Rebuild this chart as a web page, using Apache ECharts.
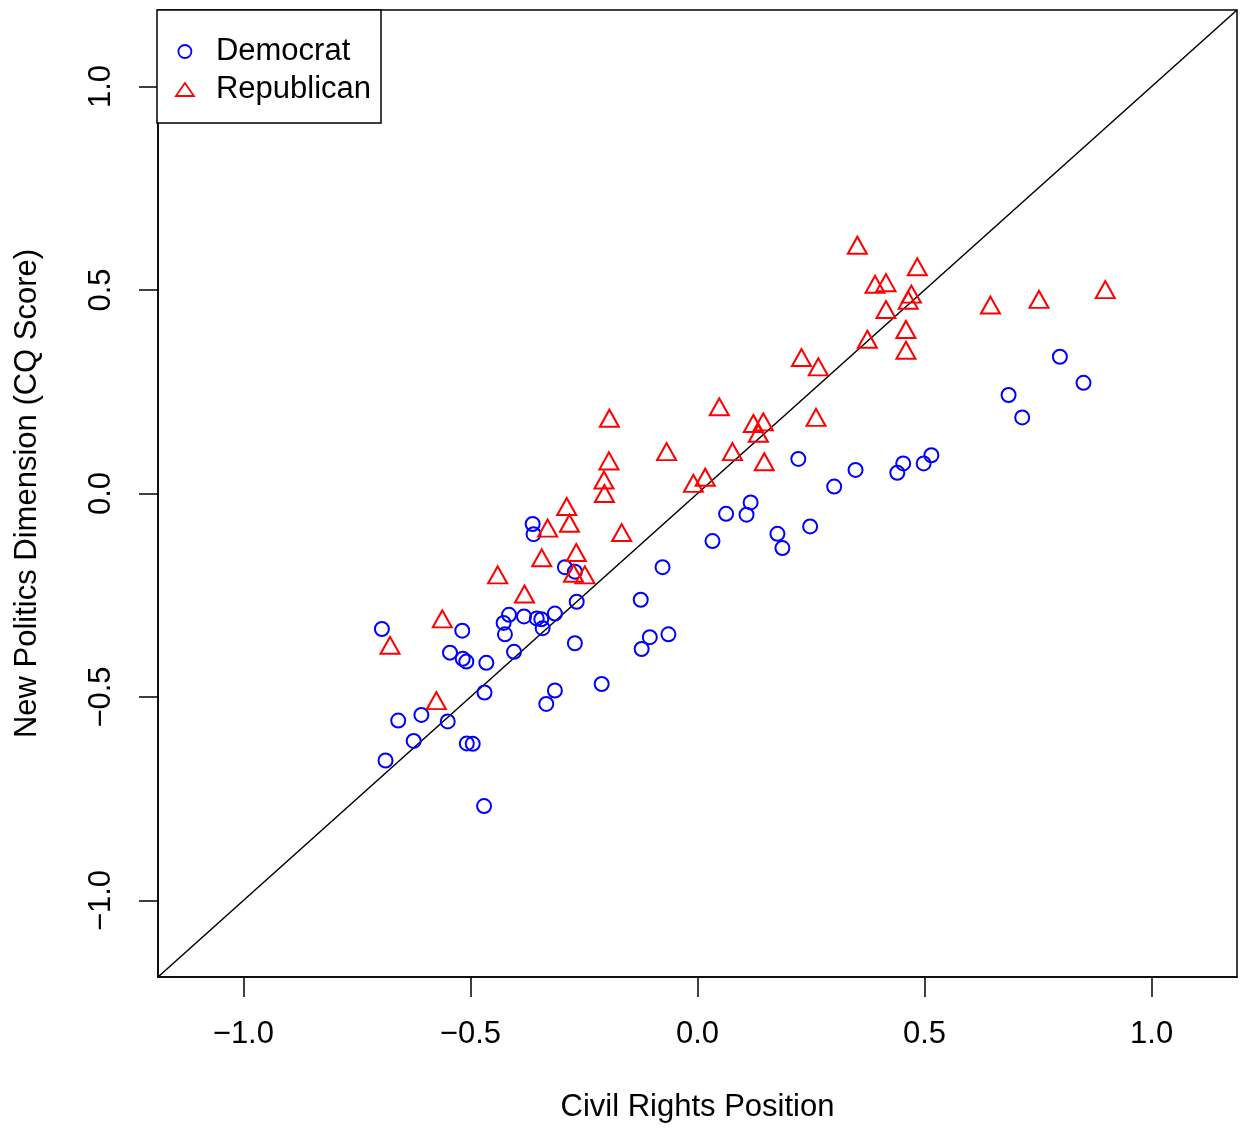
<!DOCTYPE html>
<html>
<head>
<meta charset="utf-8">
<title>Civil Rights Position vs New Politics Dimension</title>
<script src="https://cdn.jsdelivr.net/npm/echarts@6/dist/echarts.min.js"></script>
<style>
  html, body { margin: 0; padding: 0; background: #fff; }
  #chart { width: 1241px; height: 1131px; }
</style>
</head>
<body>
<div id="chart"></div>
<script>
// Democrat members: civil rights position (x) and CQ new politics score (y)
const democratX = [
  -0.695, -0.687, -0.659, -0.625, -0.608, -0.550, -0.545, -0.518, -0.517, -0.509,
  -0.508, -0.495, -0.470, -0.469, -0.465, -0.427, -0.424, -0.415, -0.404, -0.382,
  -0.363, -0.361, -0.354, -0.344, -0.341, -0.333, -0.314, -0.314, -0.292, -0.270,
  -0.270, -0.266, -0.211, -0.125, -0.123, -0.105, -0.064, -0.077, 0.033, 0.063,
  0.108, 0.117, 0.176, 0.187, 0.222, 0.248, 0.301, 0.348, 0.440, 0.453,
  0.498, 0.515, 0.685, 0.715, 0.798, 0.850
];
const democratY = [
  -0.333, -0.656, -0.558, -0.608, -0.544, -0.560, -0.391, -0.337, -0.406, -0.413,
  -0.614, -0.615, -0.768, -0.489, -0.416, -0.318, -0.346, -0.298, -0.389, -0.302,
  -0.075, -0.100, -0.307, -0.309, -0.331, -0.517, -0.484, -0.295, -0.181, -0.192,
  -0.368, -0.266, -0.468, -0.261, -0.382, -0.353, -0.346, -0.181, -0.117, -0.050,
  -0.052, -0.022, -0.099, -0.134, 0.085, -0.081, 0.017, 0.058, 0.051, 0.074,
  0.074, 0.094, 0.242, 0.187, 0.336, 0.272
];

// Republican members
const republicanX = [
  -0.677, -0.562, -0.575, -0.440, -0.381, -0.343, -0.330, -0.288, -0.282, -0.267,
  -0.273, -0.248, -0.205, -0.206, -0.195, -0.194, -0.167, -0.068, -0.009, 0.017,
  0.048, 0.077, 0.123, 0.145, 0.134, 0.147, 0.261, 0.229, 0.266, 0.352,
  0.374, 0.391, 0.415, 0.415, 0.471, 0.464, 0.484, 0.459, 0.459, 0.645,
  0.752, 0.898
];
const republicanY = [
  -0.373, -0.308, -0.509, -0.200, -0.247, -0.158, -0.085, -0.032, -0.073, -0.145,
  -0.196, -0.200, 0.000, 0.033, 0.080, 0.185, -0.096, 0.103, 0.025, 0.040,
  0.213, 0.103, 0.172, 0.176, 0.148, 0.078, 0.187, 0.334, 0.311, 0.610,
  0.379, 0.514, 0.518, 0.452, 0.490, 0.475, 0.557, 0.403, 0.352, 0.463,
  0.477, 0.501
];

// Axis limits and tick positions
const axisLimit = 1.188;
const xTicks = [-1.0, -0.5, 0.0, 0.5, 1.0];
const yTicks = [-1.0, -0.5, 0.0, 0.5, 1.0];

const FONT = '"Liberation Sans", Arial, sans-serif';
const FONT_SIZE = 31;
const BLUE = '#0000ff';
const RED = '#ff0000';

const pairs = (xs, ys) => xs.map((x, i) => [x, ys[i]]);
const tickLabel = v => (v < 0 ? '\u2212' : '') + Math.abs(v).toFixed(1);

const chart = echarts.init(document.getElementById('chart'), null, { renderer: 'canvas' });

chart.setOption({
  animation: false,
  backgroundColor: '#fff',
  textStyle: { fontFamily: FONT },
  grid: {
    left: 158, top: 10, width: 1079, height: 967,
    show: true, borderColor: '#000', borderWidth: 1.5, backgroundColor: 'transparent'
  },
  legend: {
    left: 157, top: 10,
    orient: 'vertical',
    padding: [26, 10, 18, 18],
    itemGap: 7,
    itemWidth: 18,
    itemHeight: 13,
    borderColor: '#000',
    borderWidth: 1.5,
    borderRadius: 0,
    backgroundColor: '#fff',
    selectedMode: false,
    textStyle: { fontSize: FONT_SIZE, color: '#000', fontFamily: FONT, lineHeight: 31,
      padding: [0, 0, 0, 17] },
    data: [
      { name: 'Democrat', icon: 'circle',
        itemStyle: { color: 'rgba(0,0,0,0)', borderColor: BLUE, borderWidth: 1.8 } },
      { name: 'Republican', icon: 'triangle',
        itemStyle: { color: 'rgba(0,0,0,0)', borderColor: RED, borderWidth: 1.8 } }
    ]
  },
  xAxis: {
    type: 'value',
    min: -axisLimit, max: axisLimit,
    splitLine: { show: false },
    axisLine: { show: true, onZero: false, lineStyle: { color: '#000', width: 1.5 } },
    axisTick: { show: true, length: 20, customValues: xTicks,
      lineStyle: { color: '#000', width: 1.5 } },
    axisLabel: { customValues: xTicks, formatter: tickLabel, margin: 42,
      fontSize: FONT_SIZE, color: '#000', fontFamily: FONT },
    name: 'Civil Rights Position',
    nameLocation: 'middle',
    nameGap: 115,
    nameTextStyle: { fontSize: FONT_SIZE, color: '#000', fontFamily: FONT }
  },
  yAxis: {
    type: 'value',
    min: -axisLimit, max: axisLimit,
    splitLine: { show: false },
    axisLine: { show: true, onZero: false, lineStyle: { color: '#000', width: 1.5 } },
    axisTick: { show: true, length: 19, customValues: yTicks,
      lineStyle: { color: '#000', width: 1.5 } },
    axisLabel: { customValues: yTicks, formatter: tickLabel, margin: 41, rotate: 90,
      fontSize: FONT_SIZE, color: '#000', fontFamily: FONT },
    name: 'New Politics Dimension (CQ Score)',
    nameLocation: 'middle',
    nameGap: 115,
    nameTextStyle: { fontSize: FONT_SIZE, color: '#000', fontFamily: FONT }
  },
  series: [
    {
      name: 'y = x',
      type: 'line',
      data: [[-axisLimit, -axisLimit], [axisLimit, axisLimit]],
      symbol: 'none',
      silent: true,
      lineStyle: { color: '#000', width: 1.5 },
      z: 1
    },
    {
      name: 'Democrat',
      type: 'scatter',
      data: pairs(democratX, democratY),
      symbol: 'circle',
      symbolSize: 14,
      itemStyle: { color: 'rgba(0,0,0,0)', borderColor: BLUE, borderWidth: 2, opacity: 1 },
      z: 3
    },
    {
      name: 'Republican',
      type: 'scatter',
      data: pairs(republicanX, republicanY),
      symbol: 'triangle',
      symbolSize: [19, 17],
      itemStyle: { color: 'rgba(0,0,0,0)', borderColor: RED, borderWidth: 2, opacity: 1 },
      z: 3
    }
  ]
});
</script>
</body>
</html>
